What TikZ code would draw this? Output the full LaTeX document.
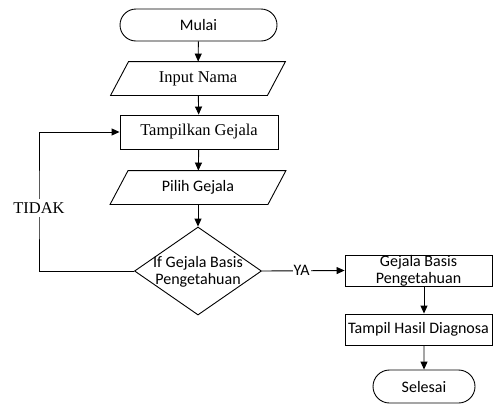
\documentclass[tikz,border=0pt]{standalone}
\usepackage{fontspec}
\setmainfont{Liberation Serif}
\newfontfamily\flowsans{Carlito}
\usetikzlibrary{shapes.geometric,shapes.misc,arrows.meta}
\begin{document}
\begin{tikzpicture}[x=1pt,y=-1pt,
  line width=0.9pt,
  font=\fontsize{16.5}{17}\selectfont,
  sansfont/.style={font=\fontsize{16}{17}\selectfont\flowsans},
  flow/.style={draw, inner sep=0pt, align=center},
  terminal/.style={flow, rounded rectangle, sansfont},
  % parallelogram frame: an undrawn box whose outline is drawn slanted afterwards
  io/.style={inner sep=0pt, align=center, minimum height=33},
  slant/.style={draw, line join=miter},
  process/.style={flow, rectangle},
  decision/.style={draw, diamond, inner sep=0pt, minimum width=127, minimum height=88},
  arr/.style={-{Triangle[length=8pt,width=7pt]}},
  lbl/.style={fill=white, inner xsep=1pt, inner ysep=4pt}
]
\useasboundingbox (0,0) rectangle (502,405);

% main column
\node[terminal, minimum width=157, minimum height=32] (start) at (198.5,25) {Mulai};
\node[io, minimum width=174] (input) at (198,78.5) {Input Nama};
\draw[slant] ([xshift=18pt]input.north west) -- (input.north east)
  -- ([xshift=-18pt]input.south east) -- (input.south west) -- cycle;
\node[process, minimum width=158, minimum height=34] (show) at (199,132) {Tampilkan Gejala};
\node[io, minimum width=175, sansfont] (pick) at (198,187.5) {Pilih Gejala};
\draw[slant] ([xshift=18pt]pick.north west) -- (pick.north east)
  -- ([xshift=-18pt]pick.south east) -- (pick.south west) -- cycle;
\node[decision] (dec) at (198,271) {};
\node[sansfont, align=center, inner sep=0pt] (dectext) at (198,272) {If Gejala Basis\\Pengetahuan};

% right column
\node[process, minimum width=147, minimum height=31, sansfont] (base) at (418.5,270.5) {Gejala Basis\\Pengetahuan};
\node[process, minimum width=147, minimum height=31, sansfont] (result) at (418.5,329.5) {Tampil Hasil Diagnosa};
\node[terminal, minimum width=102, minimum height=33] (stop) at (424,386.5) {Selesai};

% connectors
\draw[arr] (start) -- (input);
\draw[arr] (input) -- (show);
\draw[arr] (show) -- (pick);
\draw[arr] (pick) -- (dec);
\draw[arr] (base.south -| stop) -- (result.north -| stop);
\draw[arr] (result.south -| stop) -- (stop);

\draw[arr] (dec.east) -- node[lbl, pos=0.48, sansfont] {YA} (base.west);

\coordinate (loop) at (39,208);
\draw[arr] (dec.west) -| (loop) |- (show.west);
\node[lbl] (no) at (loop) {TIDAK};
\end{tikzpicture}
\end{document}
